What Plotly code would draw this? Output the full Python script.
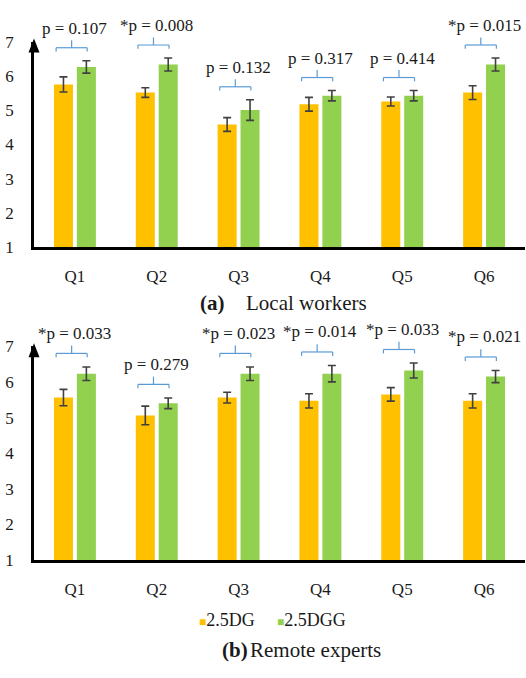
import plotly.graph_objects as go

categories = ["Q1", "Q2", "Q3", "Q4", "Q5", "Q6"]
series_names = ["2.5DG", "2.5DGG"]

# (a) Local workers
local_dg = [5.75, 5.51, 4.58, 5.17, 5.25, 5.51]
local_dg_err = [0.22, 0.14, 0.20, 0.20, 0.13, 0.20]
local_dgg = [6.26, 6.33, 5.00, 5.42, 5.42, 6.33]
local_dgg_err = [0.18, 0.19, 0.30, 0.15, 0.15, 0.19]
local_p = ["p = 0.107", "*p = 0.008", "p = 0.132", "p = 0.317", "p = 0.414", "*p = 0.015"]

# (b) Remote experts
remote_dg = [5.56, 5.06, 5.56, 5.47, 5.65, 5.47]
remote_dg_err = [0.23, 0.26, 0.15, 0.20, 0.19, 0.20]
remote_dgg = [6.23, 5.40, 6.23, 6.23, 6.32, 6.15]
remote_dgg_err = [0.19, 0.15, 0.19, 0.23, 0.21, 0.17]
remote_p = ["*p = 0.033", "p = 0.279", "*p = 0.023", "*p = 0.014", "*p = 0.033", "*p = 0.021"]

y_ticks = [1, 2, 3, 4, 5, 6, 7]
y_range = [1, 7]

W, H = 526, 678
ORANGE = "#FFC000"
GREEN = "#92D050"
BRACKET = "#5B9BD5"
FONT = "Liberation Serif, Times New Roman, serif"
TXT = "#1a1a1a"

x_dom = [34 / W, 525 / W]
top_dom = [1 - 245 / H, 1 - 33.5 / H]
bot_dom = [1 - 567 / H, 1 - 347 / H]


def to_paper(dom, v):
    return dom[0] + (v - y_range[0]) / (y_range[1] - y_range[0]) * (dom[1] - dom[0])


fig = go.Figure()

panels = [
    ("x", "y", top_dom, local_dg, local_dg_err, local_dgg, local_dgg_err, local_p),
    ("x2", "y2", bot_dom, remote_dg, remote_dg_err, remote_dgg, remote_dgg_err, remote_p),
]

shapes = []
annotations = []

for xa, ya, dom, dg, dge, dgg, dgge, pl in panels:
    for name, vals, errs, col in [
        (series_names[0], dg, dge, ORANGE),
        (series_names[1], dgg, dgge, GREEN),
    ]:
        fig.add_trace(go.Bar(
            x=categories, y=vals, name=name, xaxis=xa, yaxis=ya,
            marker=dict(color=col, line=dict(width=0)),
            error_y=dict(type="data", array=errs, color="#404040", thickness=1.6, width=4),
            showlegend=False,
        ))
    for i, cat in enumerate(categories):
        top = max(dg[i] + dge[i], dgg[i] + dgge[i])
        yb = to_paper(dom, top + 0.27)
        yh = to_paper(dom, top + 0.38)
        ym = to_paper(dom, top + 0.60)
        xl, xr, xm = i - 0.23, i + 0.15, i - 0.04
        line = dict(color=BRACKET, width=1.2)
        for (x0, x1, y0, y1) in [(xl, xr, yh, yh), (xl, xl, yh, yb), (xr, xr, yh, yb), (xm, xm, yh, ym)]:
            shapes.append(dict(type="line", xref=xa, yref="paper", x0=x0, x1=x1, y0=y0, y1=y1, line=line))
        annotations.append(dict(
            x=i, y=to_paper(dom, top + 0.95), xref=xa, yref="paper", text=pl[i], showarrow=False,
            font=dict(family=FONT, size=17, color=TXT), xanchor="center", yanchor="middle",
        ))

# arrow heads on y axes
for dom in (top_dom, bot_dom):
    shapes.append(dict(
        type="path", xref="paper", yref="paper", xsizemode="pixel", ysizemode="pixel",
        xanchor=x_dom[0], yanchor=dom[1], path="M -5.5,-11 L 5.5,-11 L 0,3 Z",
        fillcolor="black", line=dict(color="black", width=0),
    ))

# subtitles
sub_font = dict(family=FONT, size=21, color=TXT)
annotations += [
    dict(x=198 / W, y=1 - 302 / H, xref="paper", yref="paper", text="<b>(a)</b>", showarrow=False,
         xanchor="left", yanchor="middle", font=sub_font),
    dict(x=244 / W, y=1 - 302 / H, xref="paper", yref="paper", text="Local workers", showarrow=False,
         xanchor="left", yanchor="middle", font=sub_font),
    dict(x=220 / W, y=1 - 659 / H, xref="paper", yref="paper", text="<b>(b)</b>", showarrow=False,
         xanchor="left", yanchor="middle", font=sub_font),
    dict(x=248 / W, y=1 - 659 / H, xref="paper", yref="paper", text="Remote experts", showarrow=False,
         xanchor="left", yanchor="middle", font=sub_font),
]

# legend
for xpos, name, col in [(197, series_names[0], ORANGE), (275, series_names[1], GREEN)]:
    annotations.append(dict(
        x=xpos / W, y=1 - 629 / H, xref="paper", yref="paper", showarrow=False,
        xanchor="left", yanchor="middle",
        text=f"<span style='color:{col};font-size:12px'>■</span>{name}",
        font=dict(family=FONT, size=18, color=TXT),
    ))

axis_common = dict(showgrid=False, zeroline=False, showline=True, linecolor="black", linewidth=2.5,
                   tickfont=dict(family=FONT, size=17, color=TXT), ticks="")

fig.update_layout(
    width=W, height=H, autosize=False,
    margin=dict(l=0, r=0, t=0, b=0),
    paper_bgcolor="white", plot_bgcolor="white",
    font=dict(family=FONT, size=16, color=TXT),
    barmode="group", bargap=0.44, bargroupgap=0.17,
    showlegend=False,
    shapes=shapes, annotations=annotations,
    xaxis=dict(domain=x_dom, anchor="y", type="category", range=[-0.5, 5.5], ticklabelstandoff=12, **axis_common),
    yaxis=dict(domain=top_dom, anchor="x", range=y_range, tickvals=y_ticks, ticklabelstandoff=14, **axis_common),
    xaxis2=dict(domain=x_dom, anchor="y2", type="category", range=[-0.5, 5.5], ticklabelstandoff=12, **axis_common),
    yaxis2=dict(domain=bot_dom, anchor="x2", range=y_range, tickvals=y_ticks, ticklabelstandoff=14, **axis_common),
)

fig.write_html("out.html", config={"displayModeBar": False},
               post_script="document.body.style.margin='0';")
